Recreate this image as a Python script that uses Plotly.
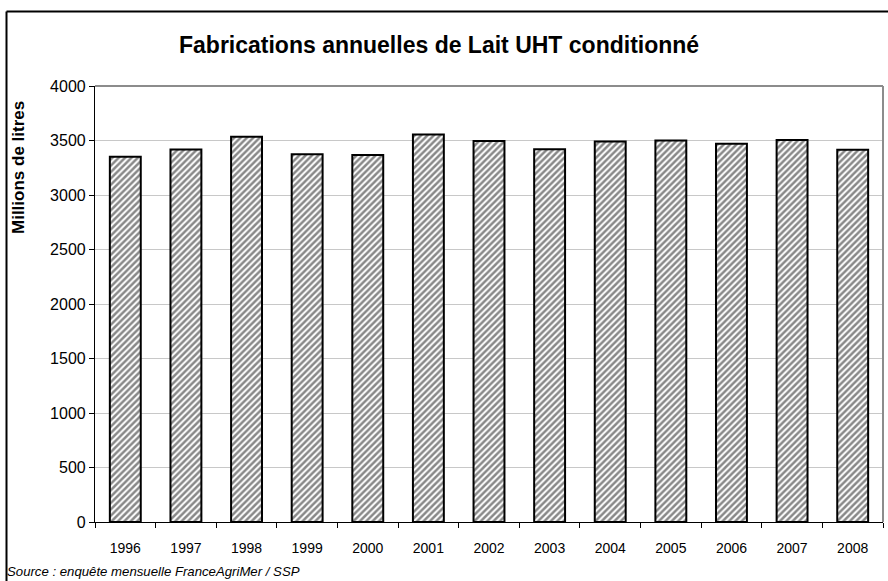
import plotly.graph_objects as go

years = ["1996", "1997", "1998", "1999", "2000", "2001", "2002", "2003", "2004", "2005", "2006", "2007", "2008"]
volumes = [3350, 3418, 3535, 3375, 3366, 3555, 3495, 3420, 3490, 3500, 3470, 3505, 3414]
y_ticks = [0, 500, 1000, 1500, 2000, 2500, 3000, 3500, 4000]

title_text = "Fabrications annuelles de Lait UHT conditionné"
y_title = "Millions de litres"
source_text = "Source : enquête mensuelle FranceAgriMer / SSP"

W, H = 888, 581
L, R, T, B = 95, 5, 86, 59
pw = W - L - R
ph = H - T - B

fig = go.Figure()
fig.add_trace(go.Bar(
    x=years, y=volumes,
    marker=dict(
        color="white",
        line=dict(color="black", width=2),
        pattern=dict(shape="/", fgcolor="#111111", bgcolor="white", size=4.5, solidity=0.55),
    ),
    width=0.51,
))

font = "Liberation Sans, Arial, sans-serif"

fig.update_layout(
    width=W, height=H, autosize=False,
    margin=dict(l=L, r=R, t=T, b=B, pad=0),
    paper_bgcolor="white", plot_bgcolor="white",
    showlegend=False,
    font=dict(family=font, color="black"),
    xaxis=dict(
        type="category", tickson="boundaries", ticks="outside", ticklen=5,
        tickcolor="black", showline=True, linecolor="black", linewidth=1.2,
        showgrid=False, tickfont=dict(size=14, family=font), range=[-0.5, 12.5],
        ticklabelstandoff=13,
    ),
    yaxis=dict(
        range=[0, 4000], tickvals=y_ticks, ticks="outside", ticklen=5,
        tickcolor="black", showline=True, linecolor="black", linewidth=1.2,
        showgrid=True, gridcolor="#c8c8c8", gridwidth=1, zeroline=False,
        tickfont=dict(size=16, family=font),
    ),
)

# title
fig.add_annotation(
    text="<b>" + title_text + "</b>", xref="paper", yref="paper",
    x=(439 - L) / pw, y=(H - B - 45) / ph, xanchor="center", yanchor="middle",
    showarrow=False, font=dict(size=23, family=font),
)
# y-axis title
fig.add_annotation(
    text="<b>" + y_title + "</b>", xref="paper", yref="paper",
    x=(18 - L) / pw, y=(H - B - 168) / ph, xanchor="center", yanchor="middle",
    textangle=-90, showarrow=False, font=dict(size=17, family=font),
)
# source
fig.add_annotation(
    text="<i>" + source_text + "</i>", xref="paper", yref="paper",
    x=(5 - L) / pw, y=(H - B - 571) / ph, xanchor="left", yanchor="middle",
    showarrow=False, font=dict(size=13.2, family=font),
)

# plot-area border (gray top and right)
fig.add_shape(type="line", xref="paper", yref="paper", x0=0, x1=1, y0=1, y1=1,
              line=dict(color="#8c8c8c", width=2))
fig.add_shape(type="line", xref="paper", yref="paper", x0=1, x1=1, y0=0, y1=1,
              line=dict(color="#8c8c8c", width=2))

# outer frame (left and top visible)
fx = (6.5 - L) / pw
fy = (H - B - 11.5) / ph
fig.add_shape(type="line", xref="paper", yref="paper", x0=fx, x1=fx, y0=-0.5, y1=fy,
              line=dict(color="black", width=2))
fig.add_shape(type="line", xref="paper", yref="paper", x0=fx, x1=1.5, y0=fy, y1=fy,
              line=dict(color="black", width=2))

fig.write_html(
    "out.html",
    config={"responsive": False, "displayModeBar": False},
    post_script="document.body.style.margin='0px';document.body.style.padding='0px';document.body.style.overflow='hidden';",
)
